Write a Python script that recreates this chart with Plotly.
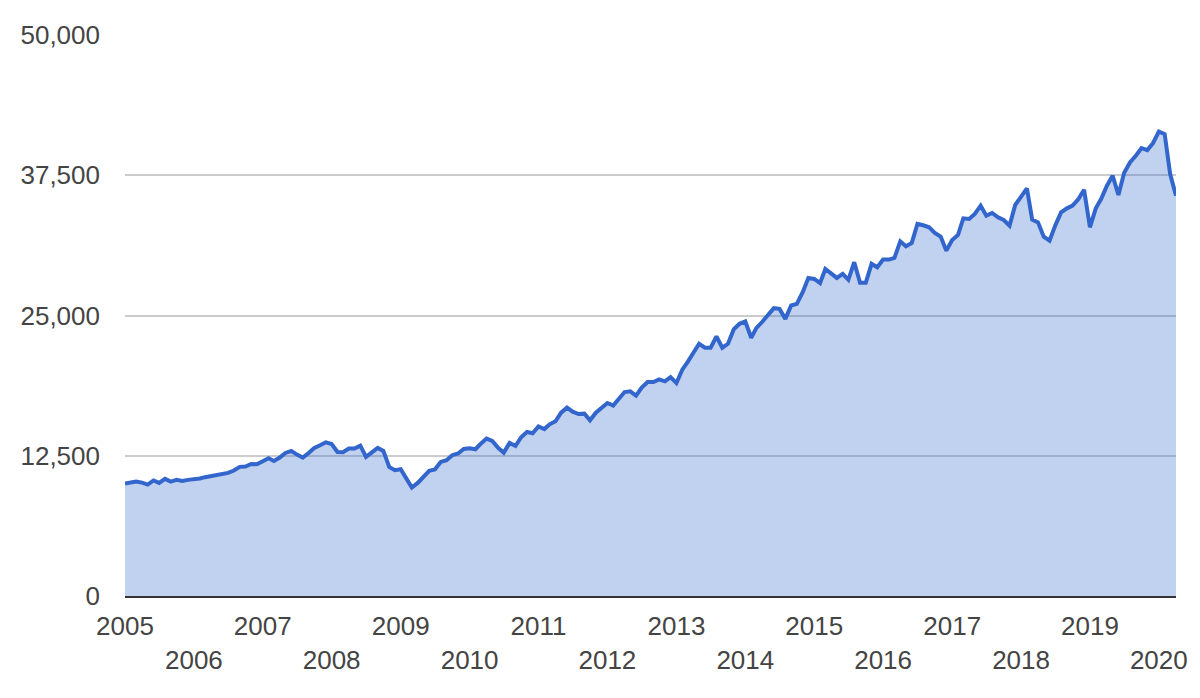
import pandas as pd
import plotly.graph_objects as go

# Monthly values (Jan 2005 .. Apr 2020)
values_2005 = [10030, 10140, 10200, 10110, 9935, 10300, 10080, 10440, 10200, 10350, 10260, 10350]
values_2006 = [10400, 10470, 10590, 10700, 10790, 10850, 10970, 11180, 11510, 11540, 11770, 11740]
values_2007 = [12010, 12280, 12040, 12340, 12750, 12930, 12600, 12340, 12750, 13200, 13430, 13700]
values_2008 = [13550, 12840, 12810, 13140, 13140, 13400, 12400, 12840, 13200, 12930, 11510, 11210]
values_2009 = [11300, 10440, 9670, 10080, 10650, 11150, 11270, 11950, 12100, 12550, 12700, 13110]
values_2010 = [13170, 13080, 13580, 14030, 13820, 13200, 12780, 13640, 13370, 14150, 14620, 14500]
values_2011 = [15120, 14880, 15300, 15570, 16340, 16790, 16430, 16220, 16250, 15660, 16340, 16730]
values_2012 = [17200, 16970, 17620, 18180, 18240, 17860, 18570, 19070, 19070, 19310, 19130, 19510]
values_2013 = [18980, 20170, 20850, 21740, 22480, 22130, 22130, 23130, 22130, 22480, 23780, 24260]
values_2014 = [24470, 23020, 23900, 24440, 25090, 25650, 25590, 24700, 25890, 26040, 27080, 28350]
values_2015 = [28260, 27890, 29150, 28710, 28350, 28710, 28180, 29750, 27910, 27910, 29600, 29300]
values_2016 = [29980, 29980, 30130, 31610, 31170, 31470, 33160, 33040, 32860, 32360, 32030, 30780]
values_2017 = [31730, 32180, 33660, 33600, 34050, 34790, 33900, 34140, 33750, 33510, 33010, 34850]
values_2018 = [35590, 36330, 33540, 33300, 32030, 31670, 33010, 34190, 34550, 34790, 35380, 36210]
values_2019 = [32860, 34550, 35380, 36570, 37460, 35740, 37700, 38640, 39240, 39920, 39740, 40360]
values_2020 = [41400, 41170, 37610, 35680]

values = (values_2005 + values_2006 + values_2007 + values_2008 + values_2009 + values_2010
          + values_2011 + values_2012 + values_2013 + values_2014 + values_2015 + values_2016
          + values_2017 + values_2018 + values_2019 + values_2020)
dates = pd.date_range("2005-01-01", periods=len(values), freq="MS")

years = list(range(2005, 2021))
year_ticks = [f"{y}-01-01" for y in years]
year_labels = [str(y) if (y - 2005) % 2 == 0 else "<br>" + str(y) for y in years]

y_ticks = [0, 12500, 25000, 37500, 50000]

FONT = "Liberation Sans, Arial, sans-serif"

fig = go.Figure()
fig.add_trace(go.Scatter(
    x=dates, y=values, mode="lines",
    line=dict(color="#3366cc", width=4),
    fill="tozeroy", fillcolor="rgba(51,102,204,0.3)",
    hoverinfo="skip",
))

fig.update_layout(
    width=1192, height=682,
    margin=dict(l=117, r=12, t=26, b=94),
    paper_bgcolor="white", plot_bgcolor="white",
    showlegend=False,
    font=dict(family=FONT, size=26, color="#444444"),
    xaxis=dict(
        range=[dates[0], dates[-1]],
        tickvals=year_ticks, ticktext=year_labels,
        showgrid=False, zeroline=False,
        showline=True, linecolor="#333333", linewidth=2,
        ticks="", ticklabelstandoff=6,
        tickfont=dict(family=FONT, size=26, color="#444444"),
    ),
    yaxis=dict(
        range=[0, 50000],
        tickvals=y_ticks, tickformat=",",
        showgrid=True, gridcolor="#cccccc", gridwidth=1.5,
        zeroline=False, showline=False,
        ticks="", ticklabelstandoff=24,
        tickfont=dict(family=FONT, size=26, color="#444444"),
    ),
)

fig.write_html("out.html")
